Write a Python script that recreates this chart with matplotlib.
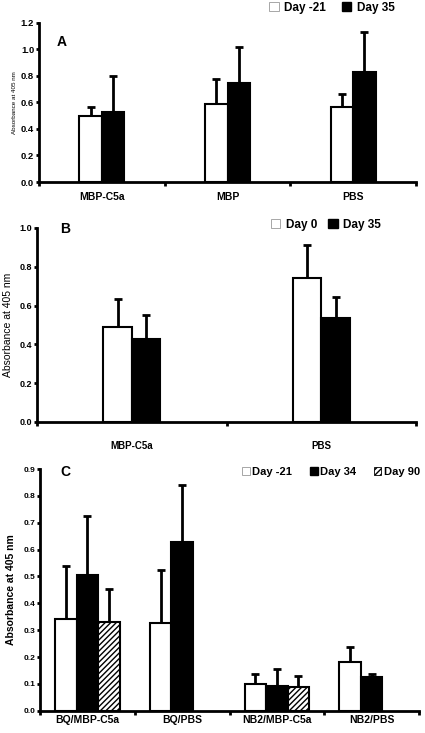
import numpy as np
import matplotlib
matplotlib.use("Agg")
import matplotlib.pyplot as plt
from matplotlib.patches import Patch

plt.rcParams['font.family'] = ['Liberation Sans', 'DejaVu Sans']
plt.rcParams['font.weight'] = 'bold'
plt.rcParams['hatch.linewidth'] = 1.0

# panel A
cats_a = ["MBP-C5a", "MBP", "PBS"]
day_m21_a = [0.50, 0.587, 0.567]
day_m21_a_err = [0.065, 0.187, 0.096]
day35_a = [0.525, 0.746, 0.83]
day35_a_err = [0.275, 0.274, 0.30]

# panel B
cats_b = ["MBP-C5a", "PBS"]
day0_b = [0.488, 0.744]
day0_b_err = [0.146, 0.167]
day35_b = [0.426, 0.534]
day35_b_err = [0.127, 0.112]

# panel C
cats_c = ["BQ/MBP-C5a", "BQ/PBS", "NB2/MBP-C5a", "NB2/PBS"]
day_m21_c = [0.343, 0.325, 0.099, 0.182]
day_m21_c_err = [0.196, 0.199, 0.037, 0.056]
day34_c = [0.507, 0.627, 0.092, 0.126]
day34_c_err = [0.218, 0.212, 0.063, 0.009]
day90_c = [0.329, np.nan, 0.089, np.nan]
day90_c_err = [0.123, np.nan, 0.040, np.nan]

fig = plt.figure(figsize=(4.25, 7.33), dpi=100)

def style_axes(ax, n, ymax, ystep, cats, tick_fs, cat_fs):
    ax.set_xlim(-0.5, n - 0.5)
    ax.set_ylim(0, ymax)
    for s in ['top', 'right']:
        ax.spines[s].set_visible(False)
    ax.spines['left'].set_linewidth(2)
    ax.spines['bottom'].set_linewidth(2)
    ax.set_yticks(np.arange(0, ymax + 1e-9, ystep))
    ax.set_xticks(range(n))
    ax.set_xticklabels(cats, fontsize=cat_fs, fontweight='bold')
    ax.set_xticks(np.arange(-0.5, n, 1.0), minor=True)
    ax.tick_params(axis='x', which='major', length=0, pad=7)
    ax.tick_params(axis='x', which='minor', length=3, width=2, direction='out')
    ax.tick_params(axis='y', length=2.5, width=2, labelsize=tick_fs, pad=1)
    ax.yaxis.set_major_formatter(matplotlib.ticker.FormatStrFormatter('%.1f'))
    for lab in ax.get_yticklabels():
        lab.set_fontweight('bold')

def bars(ax, x, vals, errs, w, color, hatch=None):
    ax.bar(x, vals, w, color=color, edgecolor='black', linewidth=1.5, hatch=hatch, zorder=2)
    ax.errorbar(x, vals, yerr=[np.zeros(len(vals)), errs], fmt='none', ecolor='black',
                elinewidth=2, capsize=3, capthick=2, zorder=1)

# A
axa = fig.add_axes([0.0918, 0.7517, 0.887, 0.2173])
xa = np.arange(len(cats_a))
wa = 0.18
bars(axa, xa - wa / 2, day_m21_a, day_m21_a_err, wa, 'white')
bars(axa, xa + wa / 2, day35_a, day35_a_err, wa, 'black')
style_axes(axa, 3, 1.2, 0.2, cats_a, 6.8, 7.5)
axa.set_ylabel("Absorbance at 405 nm", fontsize=4.5, fontweight='normal', labelpad=3)
axa.text(62 / 425, 1 - 42 / 733, "A", transform=fig.transFigure, fontsize=10,
         fontweight='bold', ha='center', va='center')
fig.legend(handles=[Patch(facecolor='white', edgecolor='#999999', linewidth=0.6),
                    Patch(facecolor='black', edgecolor='black')],
           labels=["Day -21", "Day 35"], loc='center', bbox_to_anchor=(332 / 425, 1 - 8 / 733),
           ncol=2, frameon=False, fontsize=8.5, handlelength=0.8, handleheight=0.8,
           handletextpad=0.5, columnspacing=1.3, borderaxespad=0)

# B
axb = fig.add_axes([0.0871, 0.4243, 0.892, 0.2647])
xb = np.arange(len(cats_b))
wb = 0.15
bars(axb, xb - wb / 2, day0_b, day0_b_err, wb, 'white')
bars(axb, xb + wb / 2, day35_b, day35_b_err, wb, 'black')
style_axes(axb, 2, 1.0, 0.2, cats_b, 6.5, 7)
axb.tick_params(axis='x', which='major', pad=14)
axb.set_ylabel("Absorbance at 405 nm", fontsize=7.5, fontweight='normal', labelpad=5)
axb.text(65 / 425, 1 - 229 / 733, "B", transform=fig.transFigure, fontsize=10,
         fontweight='bold', ha='center', va='center')
fig.legend(handles=[Patch(facecolor='white', edgecolor='#999999', linewidth=0.6),
                    Patch(facecolor='black', edgecolor='black')],
           labels=["Day 0", "Day 35"], loc='center', bbox_to_anchor=(326 / 425, 1 - 225 / 733),
           ncol=2, frameon=False, fontsize=8.5, handlelength=0.8, handleheight=0.8,
           handletextpad=0.5, columnspacing=0.9, borderaxespad=0)

# C
axc = fig.add_axes([0.0941, 0.0304, 0.892, 0.3297])
xc = np.arange(len(cats_c))
wc = 0.227
bars(axc, xc - wc, day_m21_c, day_m21_c_err, wc, 'white')
bars(axc, xc, day34_c, day34_c_err, wc, 'black')
bars(axc, xc + wc, day90_c, day90_c_err, wc, 'white', hatch='//////')
style_axes(axc, 4, 0.9, 0.1, cats_c, 6, 7.5)
axc.tick_params(axis='x', which='major', pad=3)
axc.set_ylabel("Absorbance at 405 nm", fontsize=7.5, fontweight='bold', labelpad=5)
axc.text(65 / 425, 1 - 472 / 733, "C", transform=fig.transFigure, fontsize=10,
         fontweight='bold', ha='center', va='center')
fig.legend(handles=[Patch(facecolor='white', edgecolor='#999999', linewidth=0.6),
                    Patch(facecolor='black', edgecolor='black'),
                    Patch(facecolor='white', edgecolor='black', linewidth=0.6, hatch='//////')],
           labels=["Day -21", "Day 34", "Day 90"], loc='center',
           bbox_to_anchor=(331 / 425, 1 - 472 / 733),
           ncol=3, frameon=False, fontsize=8, handlelength=0.7, handleheight=0.7,
           handletextpad=0.2, columnspacing=1.6, borderaxespad=0)

fig.savefig("out.png", dpi=100)
